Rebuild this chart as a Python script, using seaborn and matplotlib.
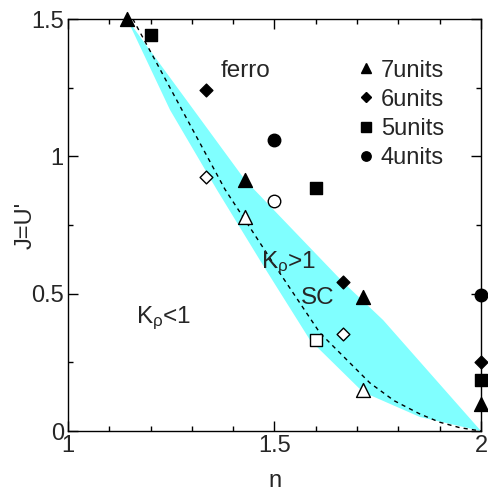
import numpy as np
import pandas as pd
import matplotlib
matplotlib.use("Agg")
import matplotlib.pyplot as plt
import seaborn as sns
from matplotlib.lines import Line2D

# SC region (cyan band) boundaries
upper_n = [1.143, 1.4286, 1.666, 1.763, 2.0]
upper_J = [1.5, 0.914, 0.542, 0.404, 0.0]
lower_n = [1.143, 1.247, 1.361, 1.472, 1.586, 1.714, 1.852, 2.0]
lower_J = [1.5, 1.169, 0.877, 0.604, 0.331, 0.142, 0.051, 0.0]

# dashed curve
dash_n = [1.157, 1.276, 1.38, 1.5, 1.61, 1.731, 1.79, 1.852, 1.90, 1.949, 2.0]
dash_J = [1.5, 1.169, 0.88, 0.604, 0.357, 0.175, 0.11, 0.062, 0.032, 0.012, 0.0]

# data points: units, n, J, filled
units = ["7units"] * 6 + ["6units"] * 5 + ["5units"] * 4 + ["4units"] * 3
n_vals = [8/7, 10/7, 12/7, 2.0, 10/7, 12/7,
          8/6, 10/6, 2.0, 8/6, 10/6,
          6/5, 8/5, 2.0, 8/5,
          6/4, 2.0, 6/4]
J_vals = [1.5, 0.914, 0.488, 0.10, 0.78, 0.149,
          1.241, 0.542, 0.251, 0.925, 0.353,
          1.442, 0.886, 0.186, 0.331,
          1.059, 0.495, 0.838]
filled = [True, True, True, True, False, False,
          True, True, True, False, False,
          True, True, True, False,
          True, True, False]

df = pd.DataFrame({"units": units, "n": n_vals, "J": J_vals, "filled": filled})

markers = {"7units": "^", "6units": "D", "5units": "s", "4units": "o"}
msize = {"7units": 10, "6units": 6.5, "5units": 9, "4units": 9}

sns.set_style("ticks")
plt.rcParams["font.family"] = ["Liberation Sans", "DejaVu Sans"]
plt.rcParams["mathtext.fontset"] = "custom"
plt.rcParams["mathtext.rm"] = "Liberation Sans"
plt.rcParams["mathtext.it"] = "Liberation Sans:italic"

fig = plt.figure(figsize=(4.88, 4.91), dpi=100)
ax = fig.add_axes([68/488, 1 - 431/491, 413/488, 412/491])

ax.fill(upper_n + lower_n[::-1], upper_J + lower_J[::-1], color="#80ffff", lw=0, zorder=1)
ax.plot(dash_n, dash_J, color="black", lw=1, dashes=(3, 3), zorder=2)

for u in ["7units", "6units", "5units", "4units"]:
    sub = df[df["units"] == u]
    for f, sd in sub.groupby("filled"):
        sns.scatterplot(data=sd, x="n", y="J", marker=markers[u], s=msize[u] ** 2,
                        color="black" if f else "white", edgecolor="black",
                        linewidth=1, ax=ax, clip_on=False, zorder=3, legend=False)

handles = [Line2D([], [], ls="none", marker=markers[u], color="black",
                  markersize=msize[u] * 0.75) for u in markers]
ax.legend(handles, list(markers.keys()), loc="upper left", bbox_to_anchor=(0.677, 0.93),
          frameon=False, fontsize=17, handlelength=0.6, handletextpad=0.3,
          labelspacing=0.3, borderpad=0)

ax.text(1.43, 1.31, "ferro", fontsize=17.5, ha="center", va="center")
ax.text(1.468, 0.61, r"K$_{\mathrm{\rho}}$>1", fontsize=17.5, ha="left", va="center")
ax.text(1.605, 0.485, "SC", fontsize=17.5, ha="center", va="center")
ax.text(1.165, 0.41, r"K$_{\mathrm{\rho}}$<1", fontsize=17.5, ha="left", va="center")

ax.set_xlim(1, 2)
ax.set_ylim(0, 1.5)
ax.set_xticks([1, 1.5, 2])
ax.set_xticklabels(["1", "1.5", "2"])
ax.set_xticks(np.arange(1, 2.01, 0.1), minor=True)
ax.set_yticks([0, 0.5, 1, 1.5])
ax.set_yticklabels(["0", "0.5", "1", "1.5"])
ax.set_yticks([0.25, 0.75, 1.25], minor=True)
ax.tick_params(which="both", direction="in", top=True, right=True, labelsize=17,
               width=1, color="black")
ax.tick_params(which="major", length=7, pad=3)
ax.tick_params(which="minor", length=3.5)
for s in ax.spines.values():
    s.set_linewidth(1)
    s.set_color("black")

ax.set_xlabel("n", fontsize=17)
ax.set_ylabel("J=U'", fontsize=17)
ax.xaxis.set_label_coords(0.5, -0.095)
ax.yaxis.set_label_coords(-0.075, 0.5)

fig.savefig("out.png", dpi=100)
